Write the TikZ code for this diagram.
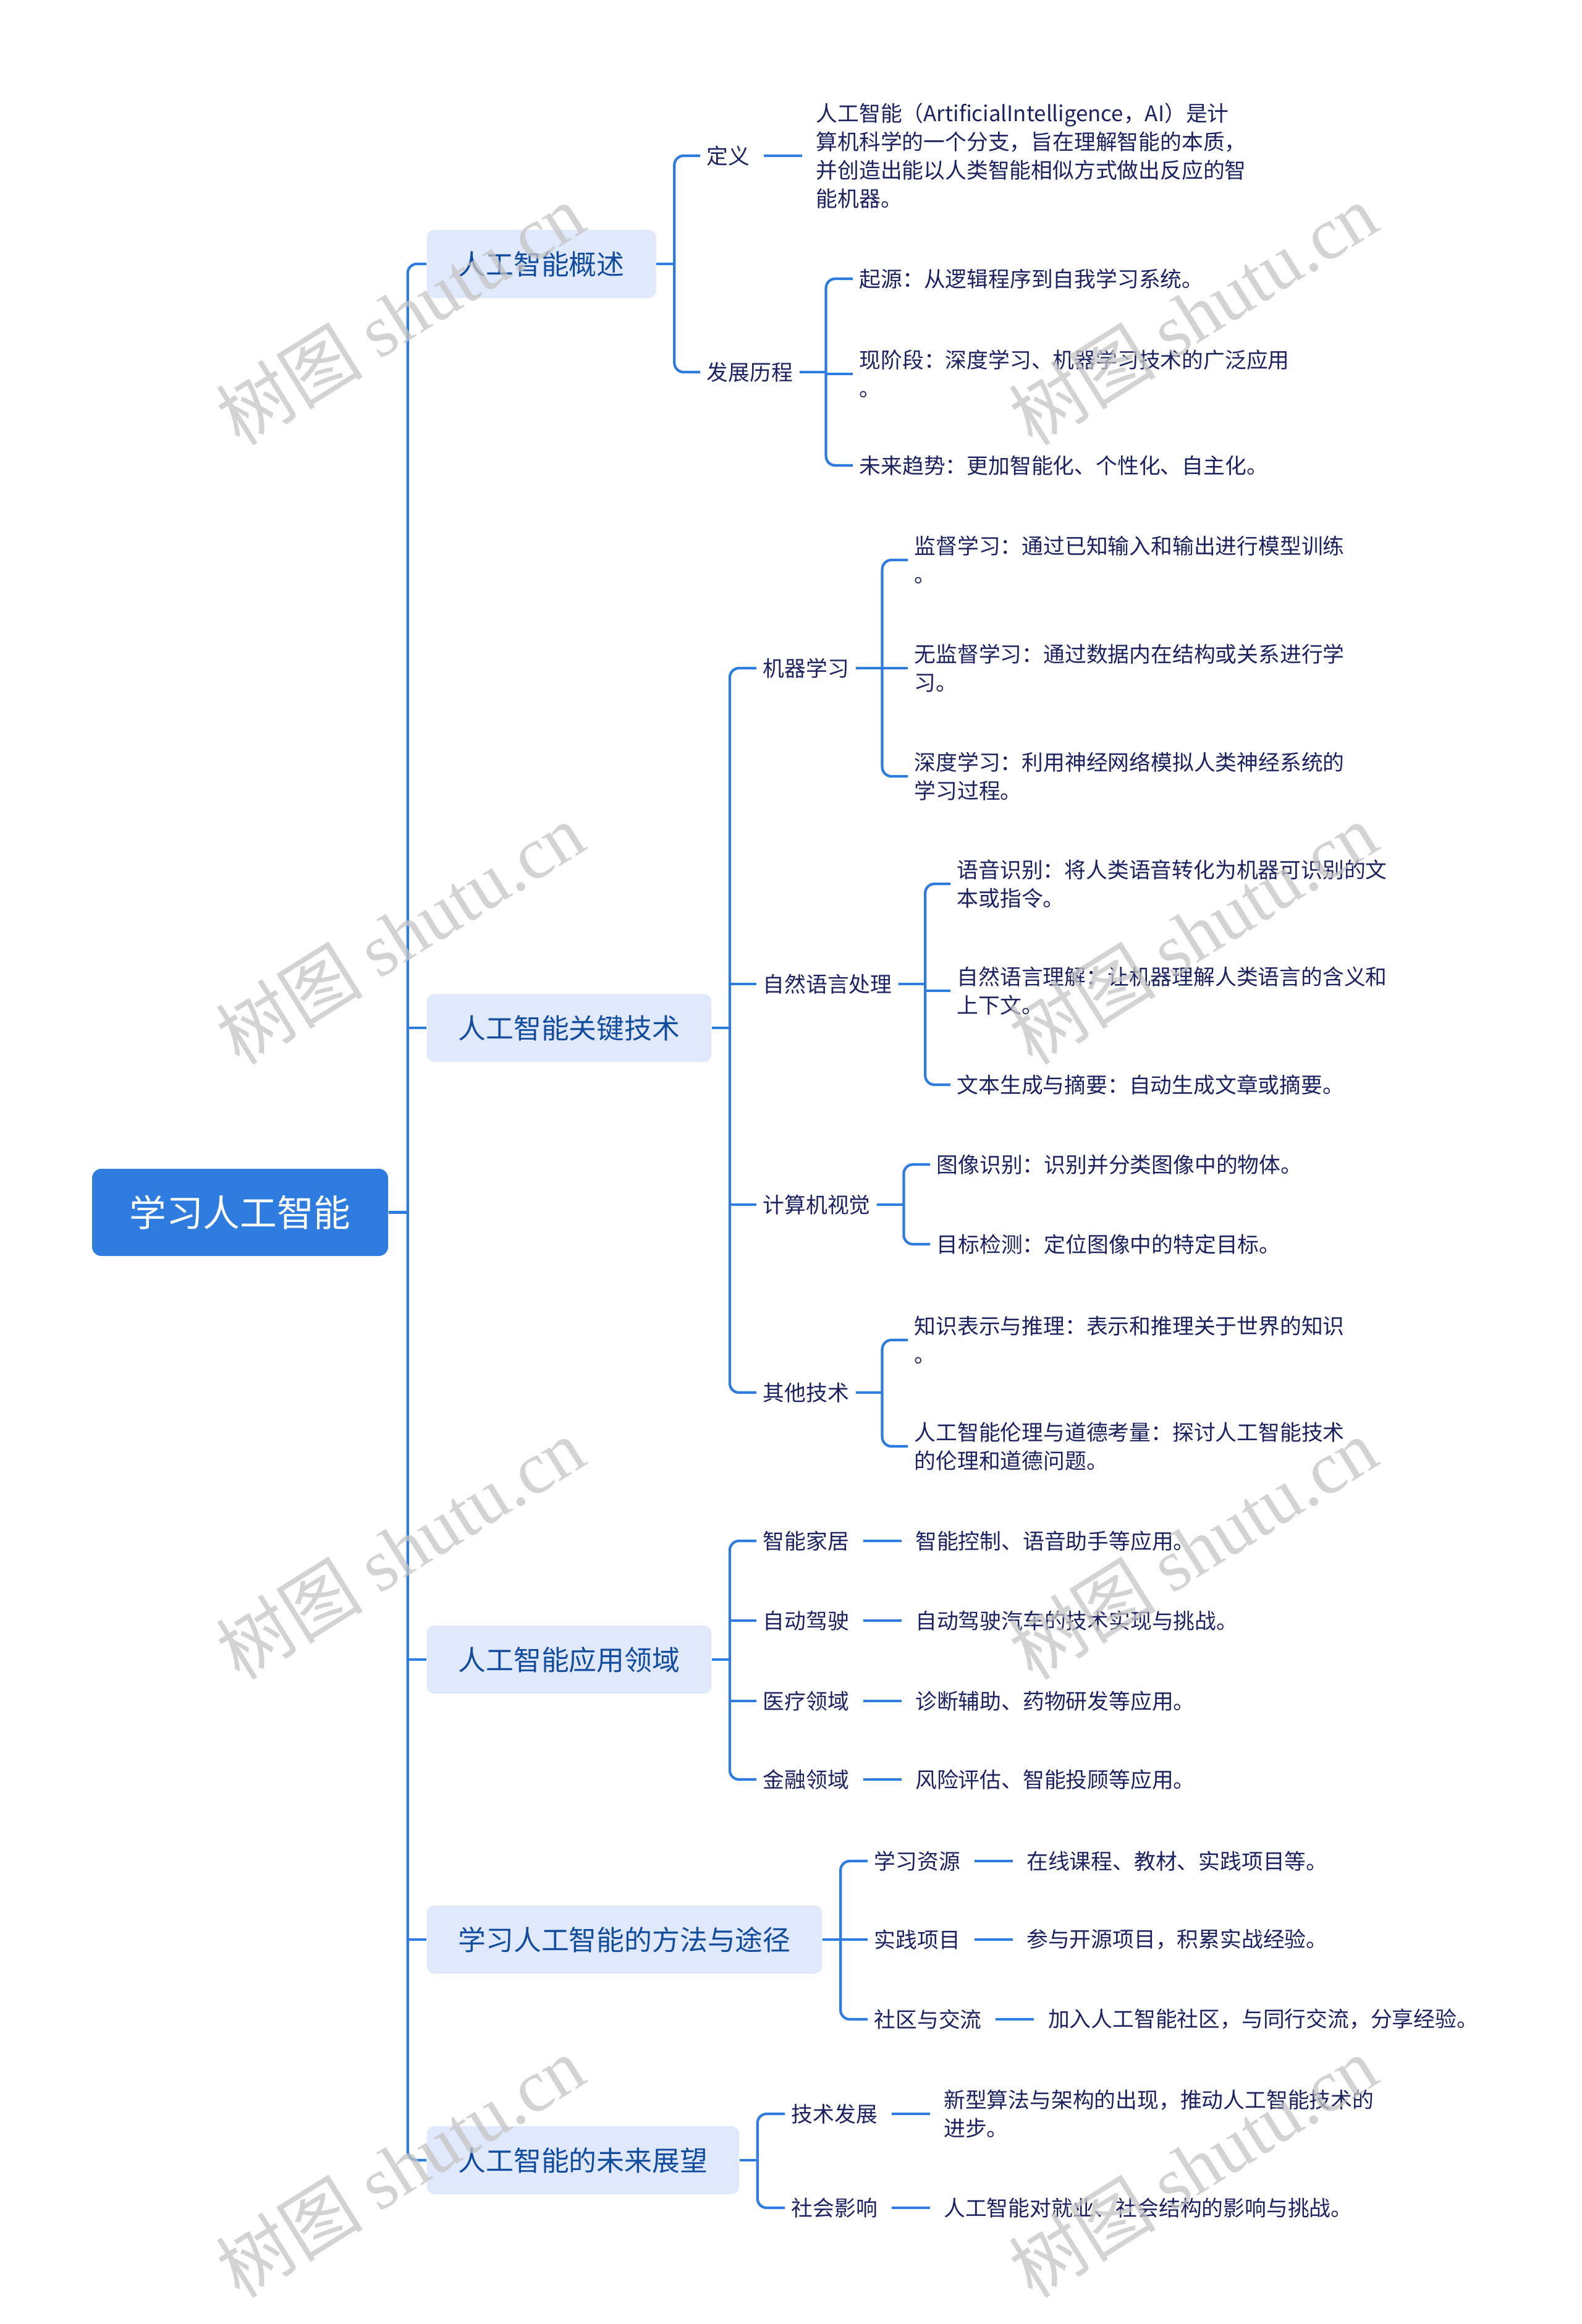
\documentclass[tikz,border=0pt]{standalone}
\usepackage{fontspec}
\setmainfont{Noto Sans CJK SC}
\newfontfamily\wmfont{Liberation Serif}
\usetikzlibrary{positioning,calc}

\definecolor{linkblue}{HTML}{2E7CE0}
\definecolor{topicfill}{HTML}{E0E9FB}
\definecolor{topictext}{HTML}{124C9E}
\definecolor{leaftext}{HTML}{1C2260}
\definecolor{wmgray}{HTML}{C4C4C4}

\begin{document}
\begin{tikzpicture}[
    rootbox/.style={fill=linkblue, text=white, rounded corners=0.15cm, minimum width=4.79cm, minimum height=1.41cm, font=\fontsize{17}{20}\selectfont},
    topicbox/.style={fill=topicfill, text=topictext, rounded corners=0.12cm, inner xsep=0.51cm, minimum height=1.1cm, anchor=west, font=\fontsize{12.75}{15}\selectfont},
    subnode/.style={text=leaftext, inner xsep=0.1cm, anchor=west, font=\fontsize{9.9}{13}\selectfont},
    leafnode/.style={subnode, align=left},
    link/.style={draw=linkblue, line width=1.2pt, rounded corners=0.15cm},
    dash link/.style={link, shorten <=0.12cm, shorten >=0.12cm},
    wmark/.style={text=wmgray, opacity=0.75, rotate=32, font=\fontsize{34}{34}\selectfont}
]
    \useasboundingbox (0,0) rectangle (25.6,-37.6);

    % 1. Root and main topics
    \node[rootbox] (ai) at (3.885,-19.615) {学习人工智能};

    \node[topicbox] (ov) at (6.90,-4.27) {人工智能概述};
    \node[topicbox] (key) at (6.90,-16.63) {人工智能关键技术};
    \node[topicbox] (app) at (6.90,-26.85) {人工智能应用领域};
    \node[topicbox] (way) at (6.90,-31.38) {学习人工智能的方法与途径};
    \node[topicbox] (fut) at (6.90,-34.95) {人工智能的未来展望};

    % Trunk
    \coordinate (t0) at ($(ai.east)+(0.31,0)$);
    \draw[link] (ai.east) -- (t0);
    \draw[link] (ov.west) -| (t0) |- (fut.west);
    \foreach \n in {key,app,way}
        \draw[link] (t0 |- \n.west) -- (\n.west);

    % 2. Overview branch
    \node[subnode] (def) at (11.33,-2.52) {定义};
    \node[leafnode, right=0.86cm of def] (defl) {人工智能（ArtificialIntelligence，AI）是计\\算机科学的一个分支，旨在理解智能的本质，\\并创造出能以人类智能相似方式做出反应的智\\能机器。};
    \node[subnode] (hist) at (11.33,-6.02) {发展历程};
    \node[leafnode] (h1) at (13.80,-4.51) {起源：从逻辑程序到自我学习系统。};
    \node[leafnode] (h2) at (13.80,-6.05) {现阶段：深度学习、机器学习技术的广泛应用\\。};
    \node[leafnode] (h3) at (13.80,-7.53) {未来趋势：更加智能化、个性化、自主化。};

    \coordinate (j1) at ($(ov.east)+(0.29,0)$);
    \draw[link] (ov.east) -- (j1);
    \draw[link] (def.west) -| (j1) |- (hist.west);
    \draw[dash link] (def.east) -- (defl.west);
    \coordinate (j12) at ($(hist.east)+(0.43,0)$);
    \draw[link] (hist.east) -- (j12);
    \draw[link] (h1.west) -| (j12) |- (h3.west);
    \draw[link] (j12 |- h2.west) -- (h2.west);

    % 3. Key technology branch
    \node[subnode] (ml) at (12.24,-10.81) {机器学习};
    \node[leafnode] (ml1) at (14.69,-9.06) {监督学习：通过已知输入和输出进行模型训练\\。};
    \node[leafnode] (ml2) at (14.69,-10.81) {无监督学习：通过数据内在结构或关系进行学\\习。};
    \node[leafnode] (ml3) at (14.69,-12.56) {深度学习：利用神经网络模拟人类神经系统的\\学习过程。};
    \node[subnode] (nlp) at (12.24,-15.92) {自然语言处理};
    \node[leafnode] (nlp1) at (15.38,-14.30) {语音识别：将人类语音转化为机器可识别的文\\本或指令。};
    \node[leafnode] (nlp2) at (15.38,-16.03) {自然语言理解：让机器理解人类语言的含义和\\上下文。};
    \node[leafnode] (nlp3) at (15.38,-17.55) {文本生成与摘要：自动生成文章或摘要。};
    \node[subnode] (cv) at (12.24,-19.49) {计算机视觉};
    \node[leafnode] (cv1) at (15.05,-18.84) {图像识别：识别并分类图像中的物体。};
    \node[leafnode] (cv2) at (15.05,-20.13) {目标检测：定位图像中的特定目标。};
    \node[subnode] (oth) at (12.24,-22.53) {其他技术};
    \node[leafnode] (oth1) at (14.69,-21.68) {知识表示与推理：表示和推理关于世界的知识\\。};
    \node[leafnode] (oth2) at (14.69,-23.40) {人工智能伦理与道德考量：探讨人工智能技术\\的伦理和道德问题。};

    \coordinate (j2) at ($(key.east)+(0.29,0)$);
    \draw[link] (key.east) -- (j2);
    \draw[link] (ml.west) -| (j2) |- (oth.west);
    \foreach \n in {nlp,cv}
        \draw[link] (j2 |- \n.west) -- (\n.west);

    \coordinate (j21) at ($(ml.east)+(0.43,0)$);
    \draw[link] (ml.east) -- (j21);
    \draw[link] (ml1.west) -| (j21) |- (ml3.west);
    \draw[link] (j21 |- ml2.west) -- (ml2.west);

    \coordinate (j22) at ($(nlp.east)+(0.43,0)$);
    \draw[link] (nlp.east) -- (j22);
    \draw[link] (nlp1.west) -| (j22) |- (nlp3.west);
    \draw[link] (j22 |- nlp2.west) -- (nlp2.west);

    \coordinate (j23) at ($(cv.east)+(0.43,0)$);
    \draw[link] (cv.east) -- (j23);
    \draw[link] (cv1.west) -| (j23) |- (cv2.west);

    \coordinate (j24) at ($(oth.east)+(0.43,0)$);
    \draw[link] (oth.east) -- (j24);
    \draw[link] (oth1.west) -| (j24) |- (oth2.west);

    % 4. Application branch
    \node[subnode] (home) at (12.24,-24.93) {智能家居};
    \node[leafnode, right=0.86cm of home] (home1) {智能控制、语音助手等应用。};
    \node[subnode] (car) at (12.24,-26.22) {自动驾驶};
    \node[leafnode, right=0.86cm of car] (car1) {自动驾驶汽车的技术实现与挑战。};
    \node[subnode] (med) at (12.24,-27.52) {医疗领域};
    \node[leafnode, right=0.86cm of med] (med1) {诊断辅助、药物研发等应用。};
    \node[subnode] (fin) at (12.24,-28.79) {金融领域};
    \node[leafnode, right=0.86cm of fin] (fin1) {风险评估、智能投顾等应用。};

    \coordinate (j3) at ($(app.east)+(0.29,0)$);
    \draw[link] (app.east) -- (j3);
    \draw[link] (home.west) -| (j3) |- (fin.west);
    \foreach \n in {car,med}
        \draw[link] (j3 |- \n.west) -- (\n.west);
    \foreach \n in {home,car,med,fin}
        \draw[dash link] (\n.east) -- (\n1.west);

    % 5. Learning methods branch
    \node[subnode] (res) at (14.04,-30.11) {学习资源};
    \node[leafnode, right=0.86cm of res] (res1) {在线课程、教材、实践项目等。};
    \node[subnode] (proj) at (14.04,-31.38) {实践项目};
    \node[leafnode, right=0.86cm of proj] (proj1) {参与开源项目，积累实战经验。};
    \node[subnode] (comm) at (14.04,-32.67) {社区与交流};
    \node[leafnode, right=0.86cm of comm] (comm1) {加入人工智能社区，与同行交流，分享经验。};

    \coordinate (j4) at ($(way.east)+(0.29,0)$);
    \draw[link] (way.east) -- (j4);
    \draw[link] (res.west) -| (j4) |- (comm.west);
    \draw[link] (j4 |- proj.west) -- (proj.west);
    \foreach \n in {res,proj,comm}
        \draw[dash link] (\n.east) -- (\n1.west);

    % 6. Outlook branch
    \node[subnode] (tech) at (12.70,-34.20) {技术发展};
    \node[leafnode, right=0.86cm of tech] (tech1) {新型算法与架构的出现，推动人工智能技术的\\进步。};
    \node[subnode] (soc) at (12.70,-35.72) {社会影响};
    \node[leafnode, right=0.86cm of soc] (soc1) {人工智能对就业、社会结构的影响与挑战。};

    \coordinate (j5) at ($(fut.east)+(0.29,0)$);
    \draw[link] (fut.east) -- (j5);
    \draw[link] (tech.west) -| (j5) |- (soc.west);
    \foreach \n in {tech,soc}
        \draw[dash link] (\n.east) -- (\n1.west);

    % Watermarks
    \foreach \y [count=\i] in {-5.08,-15.10,-25.05,-35.05} {
        \node[wmark] (wmL\i) at (6.47,\y) {树图 {\wmfont shutu.cn}};
        \node[wmark] (wmR\i) at (19.30,\y) {树图 {\wmfont shutu.cn}};
    }

\end{tikzpicture}
\end{document}
